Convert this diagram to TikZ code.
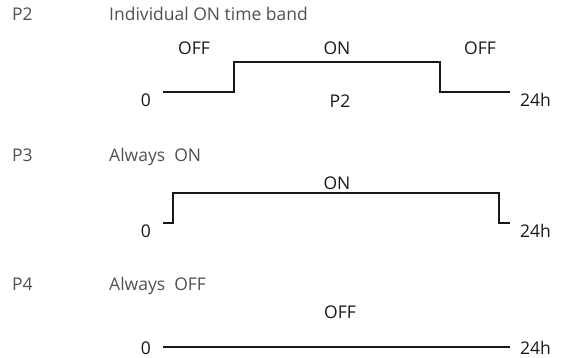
\documentclass[tikz,border=0pt]{standalone}
\usepackage{fontspec}
\setmainfont{Open Sans}
\definecolor{ink}{HTML}{1A1718}
\definecolor{headgray}{HTML}{505052}
\begin{document}
\begin{tikzpicture}[x=1pt,y=-1pt,
  lbl/.style={font=\fontsize{17.5}{19}\selectfont, text=ink, inner sep=0pt, anchor=base},
  head/.style={font=\fontsize{17.5}{19}\selectfont, text=headgray, inner sep=0pt, anchor=base west},
  wave/.style={draw=ink, line width=2.8pt, line cap=butt, line join=miter}]
\useasboundingbox (0,0) rectangle (563,358);
% ---- P2
\node[head] (h2a) at (12,21) {P2};
\node[head] (h2b) at (109,21) {Individual ON time band};
\node[lbl] (p2off1) at (194,55) {OFF};
\node[lbl] (p2on) at (337,55) {ON};
\node[lbl] (p2off2) at (480,55) {OFF};
\node[lbl] (p2zero) at (146,107) {0};
\node[lbl, anchor=base west] (p2end) at (520,107) {24h};
\node[lbl] (p2lab) at (340,108) {P2};
\coordinate (a0) at (163,92);
\coordinate (a1) at (234,92);
\coordinate (a2) at (234,62);
\coordinate (a3) at (440,62);
\coordinate (a4) at (440,92);
\coordinate (a5) at (510,92);
\draw[wave] (a0) -- (a1) -- (a2) -- (a3) -- (a4) -- (a5);
% ---- P3
\node[head] (h3a) at (12,162) {P3};
\node[head] (h3b) at (109,162) {Always\ \ ON};
\node[lbl] (p3on) at (337,190) {ON};
\node[lbl] (p3zero) at (146,238) {0};
\node[lbl, anchor=base west] (p3end) at (520,238) {24h};
\coordinate (b0) at (163,223);
\coordinate (b1) at (173,223);
\coordinate (b2) at (173,193);
\coordinate (b3) at (499,193);
\coordinate (b4) at (499,223);
\coordinate (b5) at (510,223);
\draw[wave] (b0) -- (b1) -- (b2) -- (b3) -- (b4) -- (b5);
% ---- P4
\node[head] (h4a) at (12,291) {P4};
\node[head] (h4b) at (109,291) {Always\ \ OFF};
\node[lbl] (p4off) at (340,319) {OFF};
\node[lbl] (p4zero) at (146,355) {0};
\node[lbl, anchor=base west] (p4end) at (520,355) {24h};
\coordinate (c0) at (163,347);
\coordinate (c1) at (510,347);
\draw[wave] (c0) -- (c1);
\end{tikzpicture}
\end{document}
